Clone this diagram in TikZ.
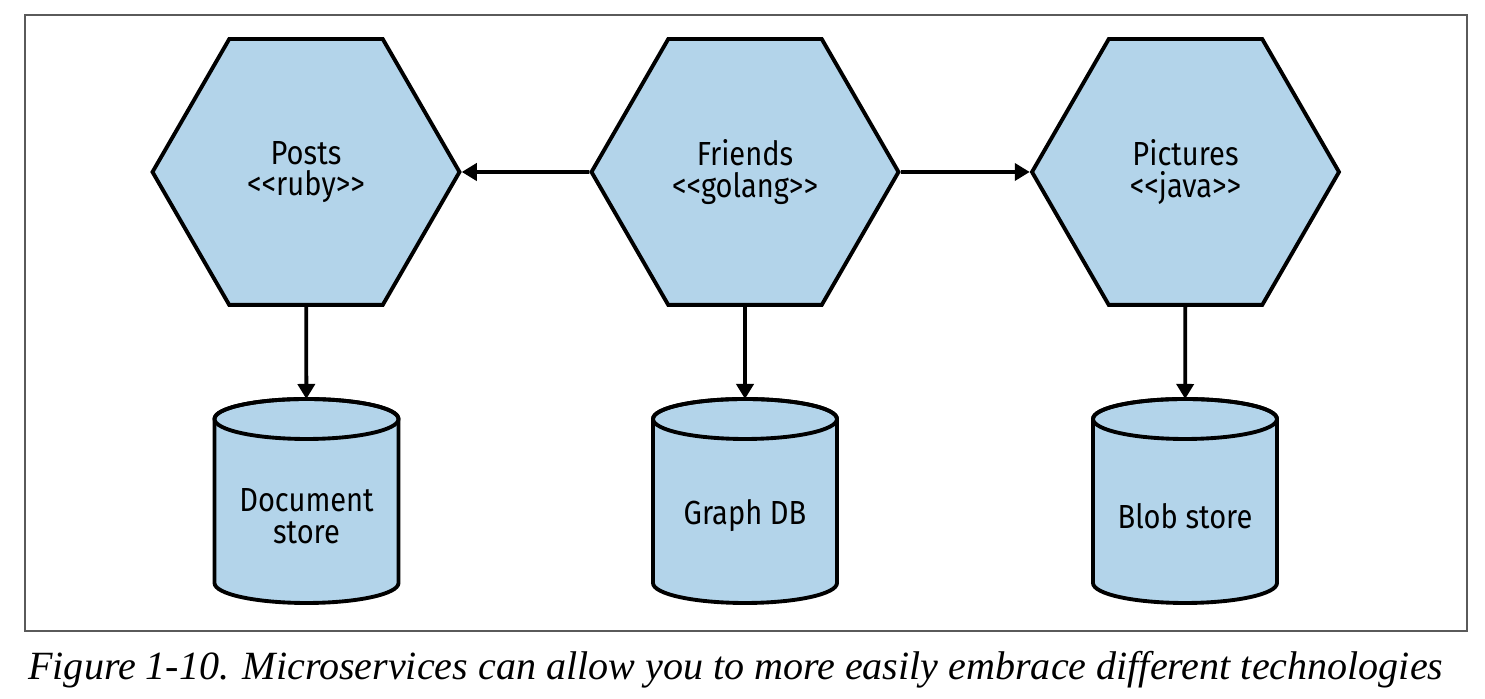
\documentclass[tikz,border=0pt]{standalone}
\usepackage{fontspec}
\setmainfont{Liberation Serif}
\setsansfont{Fira Sans}[FakeStretch=0.87]
\usetikzlibrary{shapes.geometric,arrows.meta}

\definecolor{svcblue}{RGB}{179,212,234}
\definecolor{framegray}{RGB}{90,90,90}

\tikzset{
  service/.style={regular polygon, regular polygon sides=6, minimum size=6.14cm,
    inner sep=0pt, draw, line width=2.2pt, fill=svcblue, align=center,
    font=\sffamily\fontsize{19}{18}\selectfont},
  store/.style={rectangle, minimum width=3.68cm, minimum height=4.08cm,
    inner sep=0pt, outer sep=0pt},
  storetext/.style={align=center, font=\sffamily\fontsize{19}{18}\selectfont},
  link/.style={line width=2.2pt, -{Triangle[length=0.3cm,width=0.34cm]}}
}

\begin{document}
\begin{tikzpicture}

      \useasboundingbox (0,0) rectangle (29.7,13.98);
      \draw[framegray, line width=0.6pt] (0.5,1.36) rectangle (29.34,13.68);

      % services
      \node[service] (posts)    at (6.12,10.54)  {Posts\\<{}<ruby>{}>};
      \node[service] (friends)  at (14.9,10.54)  {Friends\\<{}<golang>{}>};
      \node[service] (pictures) at (23.71,10.54) {Pictures\\<{}<java>{}>};

      % data stores
      \begin{scope}[every node/.style={store}]
        \node (docs)  at (6.13,3.96)  {};
        \node (graph) at (14.9,3.96)  {};
        \node (blobs) at (23.7,3.96)  {};
      \end{scope}

      \foreach \n in {docs,graph,blobs} {
        \path[draw, line width=2.2pt, fill=svcblue]
          (\n.north west) ++(0,-0.4) -- ++(0,-3.28)
          arc[start angle=180, end angle=360, x radius=1.84cm, y radius=0.4cm]
          -- ++(0,3.28)
          arc[start angle=0, end angle=180, x radius=1.84cm, y radius=0.4cm] -- cycle;
        \draw[line width=2.2pt] (\n.north) ++(0,-0.4) ellipse[x radius=1.84cm, y radius=0.4cm];
      }

      \begin{scope}[every node/.style={storetext}]
        \node (docstext)  at ([yshift=-0.3cm]docs.center)  {Document\\store};
        \node (graphtext) at ([yshift=-0.3cm]graph.center) {Graph DB};
        \node (blobstext) at ([yshift=-0.3cm]blobs.center) {Blob store};
      \end{scope}

      % calls
      \begin{scope}[every edge/.style={draw,link}]
        \path (friends)  edge (posts);
        \path (friends)  edge (pictures);
        \path (posts)    edge (docs);
        \path (friends)  edge (graph);
        \path (pictures) edge (blobs);
      \end{scope}

      \node[anchor=base west, inner sep=0pt, font=\itshape\fontsize{22.8}{26}\selectfont] (caption)
        at (0.56,0.38) {Figure 1-10. Microservices can allow you to more easily embrace different technologies};

    \end{tikzpicture}
\end{document}
